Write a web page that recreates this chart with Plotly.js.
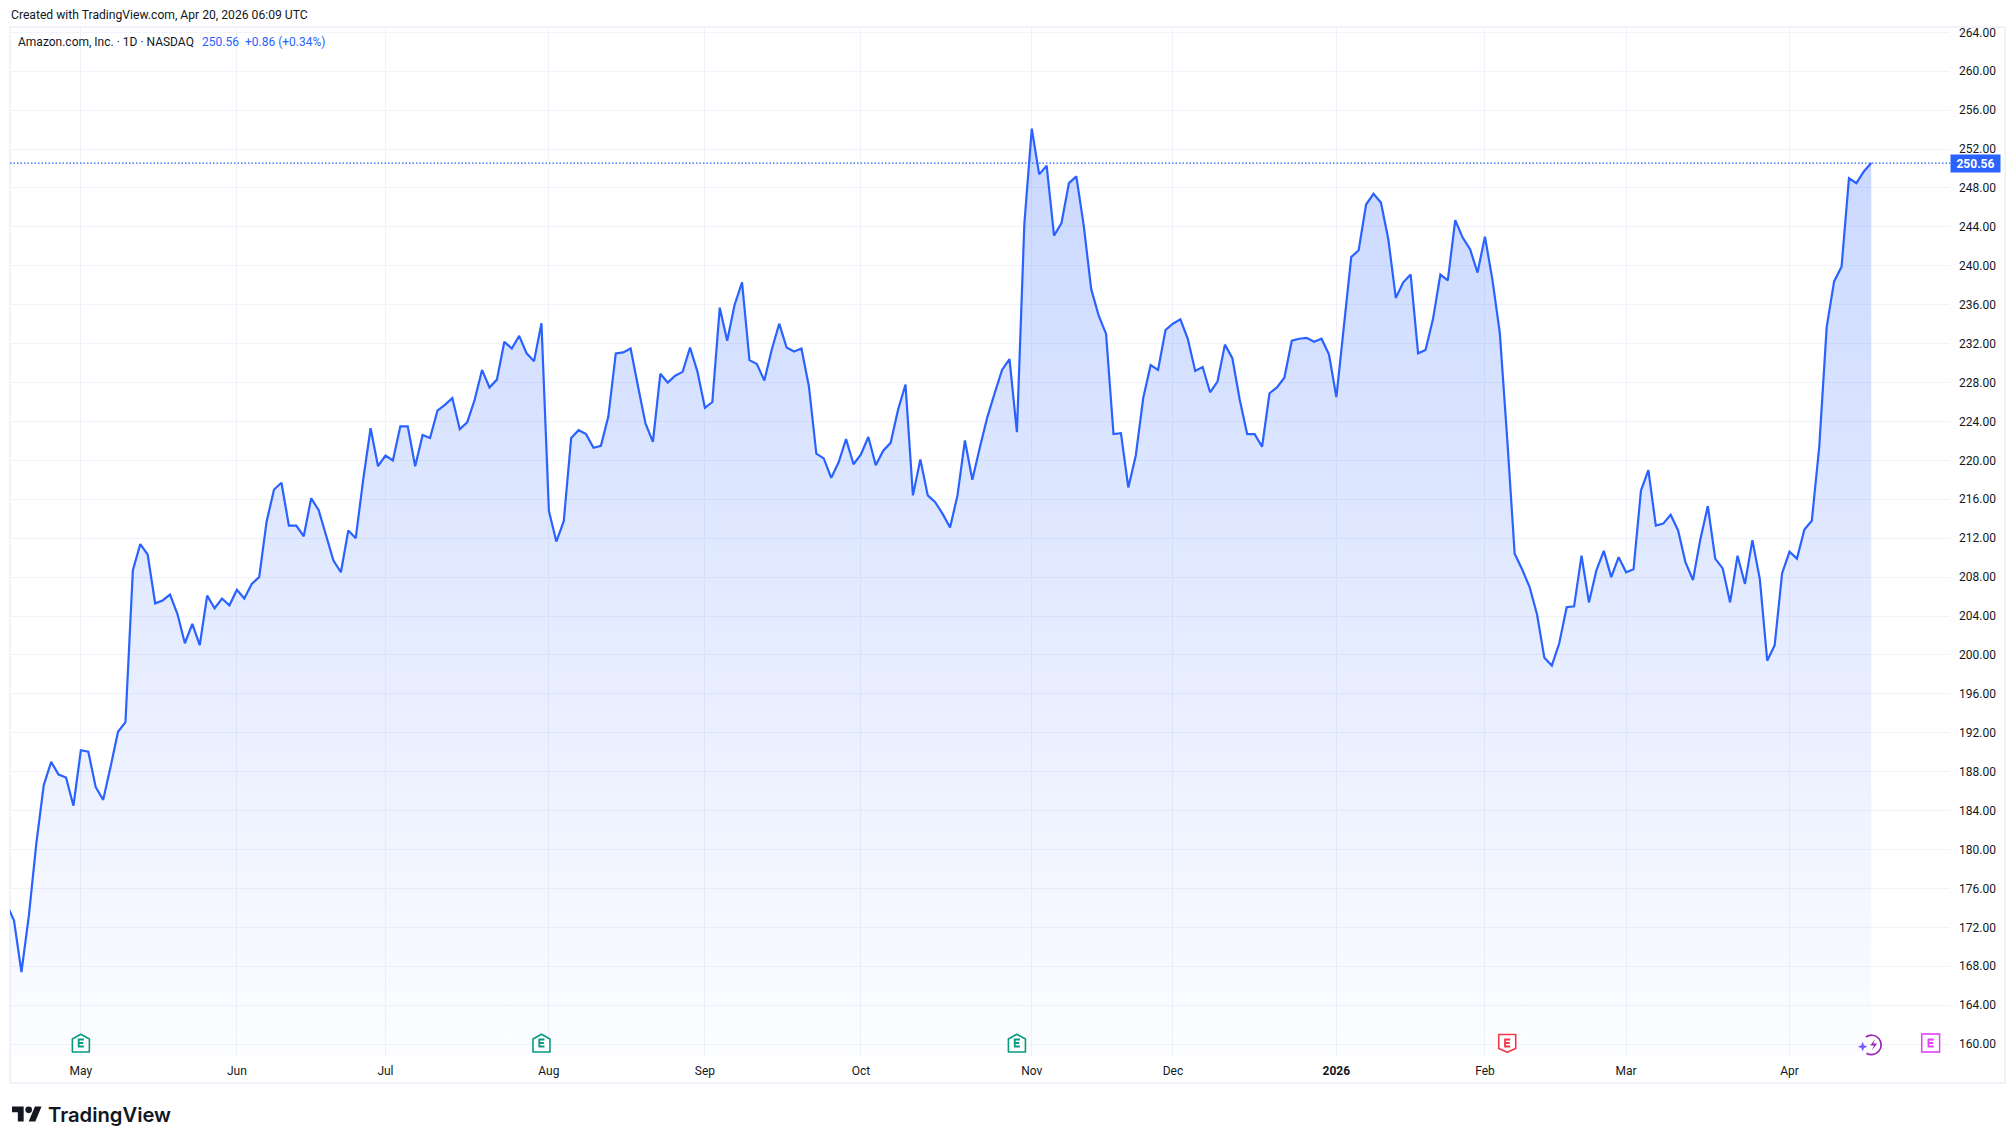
<!DOCTYPE html>
<html>
<head>
<meta charset="utf-8">
<script src="https://cdn.plot.ly/plotly-3.0.1.min.js"></script>
<style>
  body { margin: 0; background: #fff; }
  #frame { position: absolute; left: 9px; top: 26px; width: 1993px; height: 1054px; border: 2px solid #f0f3fa; }
  #chart { position: absolute; left: 0; top: 0; width: 2014px; height: 1145px; }
</style>
</head>
<body>
<div id="frame"></div>
<div id="chart"></div>
<script>
// AMZN daily closes, one per trading day
const closes = [
  174.4, 172.7, 167.4, 173.2, 180.6, 186.6, 189.0, 187.7, 187.4, 184.5,
  190.2, 190.05, 186.4, 185.1, 188.5, 192.1, 193.1, 208.7, 211.4, 210.3,
  205.3, 205.6, 206.2, 204.2, 201.2, 203.2, 201.0, 206.1, 204.8, 205.8,
  205.1, 206.7, 205.8, 207.3, 208.0, 213.7, 217.0, 217.7, 213.3, 213.3,
  212.2, 216.1, 214.9, 212.4, 209.7, 208.5, 212.8, 212.0, 218.0, 223.3,
  219.4, 220.5, 220.0, 223.5, 223.5, 219.4, 222.6, 222.3, 225.1, 225.7,
  226.4, 223.2, 223.9, 226.2, 229.3, 227.5, 228.3, 232.2, 231.5, 232.8,
  231.0, 230.2, 234.1, 214.8, 211.65, 213.75, 222.3, 223.1, 222.7, 221.3,
  221.5, 224.5, 231.0, 231.1, 231.5, 227.6, 223.8, 221.9, 228.9, 228.0,
  228.7, 229.1, 231.6, 229.1, 225.4, 226.0, 235.7, 232.3, 236.0, 238.3,
  230.3, 229.9, 228.2, 231.4, 234.05, 231.6, 231.2, 231.5, 227.6, 220.7,
  220.2, 218.2, 219.8, 222.2, 219.6, 220.6, 222.4, 219.5, 221.0, 221.8,
  225.2, 227.8, 216.4, 220.1, 216.4, 215.7, 214.5, 213.1, 216.4, 222.05,
  218.0, 221.3, 224.4, 226.9, 229.3, 230.4, 222.9, 244.3, 254.1, 249.4,
  250.3, 243.1, 244.4, 248.5, 249.2, 244.1, 237.6, 234.9, 233.0, 222.7,
  222.8, 217.2, 220.5, 226.4, 229.8, 229.3, 233.4, 234.05, 234.5, 232.5,
  229.2, 229.6, 227.0, 228.1, 231.9, 230.5, 226.2, 222.7, 222.7, 221.4,
  226.9, 227.5, 228.5, 232.3, 232.5, 232.6, 232.2, 232.5, 230.9, 226.5,
  233.8, 240.9, 241.6, 246.3, 247.4, 246.5, 242.7, 236.7, 238.3, 239.1,
  231.0, 231.35, 234.5, 239.1, 238.5, 244.7, 242.9, 241.7, 239.3, 243.0,
  238.6, 233.1, 222.2, 210.4, 208.8, 207.0, 204.2, 199.7, 198.9, 201.2,
  204.9, 205.0, 210.2, 205.4, 208.7, 210.7, 208.0, 210.05, 208.5, 208.8,
  216.9, 219.0, 213.3, 213.5, 214.4, 212.8, 209.5, 207.7, 211.9, 215.3,
  209.9, 208.9, 205.4, 210.2, 207.3, 211.8, 207.8, 199.4, 201.0, 208.4,
  210.6, 209.9, 212.9, 213.8, 221.4, 233.7, 238.4, 239.9, 249.0, 248.5,
  249.7, 250.56
]
const monthIdx = [10, 31, 51, 73, 94, 115, 138, 157, 179, 199, 218, 240]
const monthLabels = ['May', 'Jun', 'Jul', 'Aug', 'Sep', 'Oct', 'Nov', 'Dec', '<b>2026</b>', 'Feb', 'Mar', 'Apr']
const pastEarningsGood = [10, 72, 136]
const pastEarningsBad = [202]
const dividendIdx = [251]
const nextEarningsIdx = [259]
const lastClose = closes[closes.length - 1]

const BLUE = '#2962FF'
const INK = '#131722'
const FONT = 'Roboto, sans-serif'

// plot box in pixels, annotations are placed from it
const W = 2014, H = 1145
const L = 10, R = 1950, T = 27, B = 1056
const px = x => (x - L) / (R - L)
const py = y => 1 - (y - T) / (B - T)

function svgUri(body, w, h) {
  const svg = `<svg xmlns="http://www.w3.org/2000/svg" width="${w}" height="${h}" viewBox="0 0 ${w} ${h}">${body}</svg>`
  return 'data:image/svg+xml;charset=utf-8,' + encodeURIComponent(svg)
}
function letterE(col) {
  return `<path d="M7 6.5h6M7 10h5.4M7 13.5h6M7.8 6.5v7" stroke="${col}" stroke-width="1.8" fill="none"/>`
}
const iconGood = svgUri(`<path d="M1.5 6L10 1.2 18.5 6v13H1.5z" fill="#fff" stroke="#089981" stroke-width="1.6" stroke-linejoin="round"/>` + letterE('#089981'), 20, 20)
const iconBad = svgUri(`<path d="M1.5 1.5h17v14L10 19.2 1.5 15.5z" fill="#fff" stroke="#F23645" stroke-width="1.6" stroke-linejoin="round"/>` + letterE('#F23645'), 20, 20)
const iconNext = svgUri(`<rect x="1" y="1" width="18" height="18" fill="#fff" stroke="#E040FB" stroke-width="1.6"/>` + letterE('#E040FB'), 20, 20)
const iconBolt = svgUri(
  `<path d="M8 4.5A9 9 0 1 1 8.5 19.5" fill="none" stroke="#9C27B0" stroke-width="1.6"/>` +
  `<path d="M16.5 6.5l-4.5 6h3.5l-2 4.5 5-6.5h-3.5z" fill="#9C27B0"/>` +
  `<path d="M5 9l1.3 3.2L9.5 13.5l-3.2 1.3L5 18l-1.3-3.2L.5 13.5l3.2-1.3z" fill="#7B5CFF"/>`, 26, 22)
const logo = svgUri(`<path d="M14 22H7V11H0V4h14v18zM28 22h-8l7.5-18h8L28 22z" fill="${INK}"/><circle cx="20" cy="8" r="4" fill="${INK}"/>`, 36, 26)

// x axis is bar number, 7.43 px a bar
const xStart = 0.46, xEnd = 261.6

function iconAt(idx, src, cy, wPx, hPx) {
  return { source: src, xref: 'x', yref: 'paper', x: idx, y: py(cy), sizex: wPx * (xEnd - xStart) / (R - L), sizey: hPx / (B - T), xanchor: 'center', yanchor: 'middle', sizing: 'contain', layer: 'above' }
}

function note(text, x, y, size, color, extra) {
  return Object.assign({ text: text, xref: 'paper', yref: 'paper', x: px(x), y: py(y), xanchor: 'left', yanchor: 'middle', showarrow: false, font: { family: FONT, size: size, color: color } }, extra || {})
}

const trace = {
  x: closes.map((_, i) => i),
  y: closes,
  type: 'scatter',
  mode: 'lines',
  line: { color: BLUE, width: 2.2 },
  fill: 'tozeroy',
  fillgradient: {
    type: 'vertical',
    start: 254,
    stop: 158.8,
    colorscale: [[0, 'rgba(41,98,255,0.25)'], [1, 'rgba(41,98,255,0.012)']]
  },
  hoverinfo: 'skip'
}

const layout = {
  width: W,
  height: H,
  margin: { l: L, r: W - R, t: T, b: H - B, pad: 0 },
  paper_bgcolor: 'rgba(0,0,0,0)',
  plot_bgcolor: 'rgba(0,0,0,0)',
  showlegend: false,
  hovermode: false,
  xaxis: {
    range: [xStart, xEnd],
    tickmode: 'array',
    tickvals: monthIdx,
    ticktext: monthLabels,
    showgrid: true,
    gridcolor: '#f0f3fa',
    gridwidth: 1,
    zeroline: false,
    showline: false,
    ticks: '',
    ticklabelstandoff: 6,
    tickfont: { family: FONT, size: 12, color: INK }
  },
  yaxis: {
    range: [158.77, 264.55],
    side: 'right',
    tick0: 160,
    dtick: 4,
    tickformat: '.2f',
    showgrid: true,
    gridcolor: '#f0f3fa',
    gridwidth: 1,
    zeroline: false,
    showline: false,
    ticks: '',
    ticklabelstandoff: 8,
    tickfont: { family: FONT, size: 12, color: INK }
  },
  shapes: [{
    type: 'line', xref: 'paper', yref: 'y', x0: 0, x1: 1, y0: lastClose, y1: lastClose,
    line: { color: BLUE, width: 1.3, dash: '1.5px,2px' }
  }],
  images: [
    ...pastEarningsGood.map(i => iconAt(i, iconGood, 1043, 20, 20)),
    ...pastEarningsBad.map(i => iconAt(i, iconBad, 1043, 20, 20)),
    ...dividendIdx.map(i => iconAt(i, iconBolt, 1044, 28, 24)),
    ...nextEarningsIdx.map(i => iconAt(i, iconNext, 1043, 20, 20)),
    { source: logo, xref: 'paper', yref: 'paper', x: px(12), y: py(1114), sizex: 30 / (R - L), sizey: 22 / (B - T), xanchor: 'left', yanchor: 'middle', sizing: 'contain', layer: 'above' }
  ],
  annotations: [
    note('Created with TradingView.com, Apr 20, 2026 06:09 UTC', 9, 15, 12.15, INK),
    note('Amazon.com, Inc. · 1D · NASDAQ', 16, 42, 12, INK),
    note(lastClose.toFixed(2), 200, 42, 12, BLUE),
    note('+0.86 (+0.34%)', 243, 42, 12, BLUE),
    note('TradingView', 45.5, 1114, 20.2, INK, { font: { family: 'Inter, sans-serif', size: 20.2, color: INK, weight: 600 } }),
    {
      text: '<b>' + lastClose.toFixed(2) + '</b>', xref: 'paper', yref: 'y', x: px(1950), y: lastClose,
      xanchor: 'left', yanchor: 'middle', showarrow: false, bgcolor: BLUE, borderpad: 0, width: 49, height: 17,
      font: { family: FONT, size: 12, color: '#ffffff' }
    }
  ]
}

Plotly.newPlot('chart', [trace], layout, { displayModeBar: false, staticPlot: true })
</script>
</body>
</html>
